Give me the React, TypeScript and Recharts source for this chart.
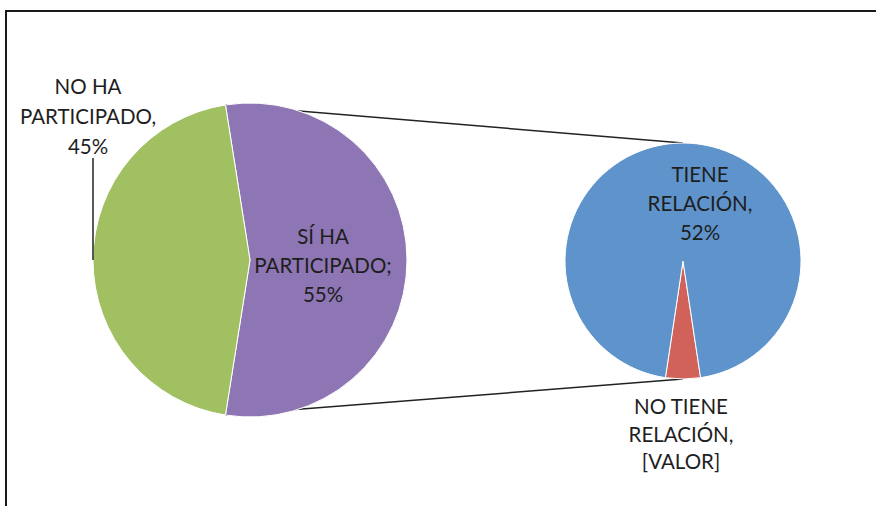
import { PieChart, Pie, Cell } from "recharts";

// primary pie
const mainNames = ["SÍ HA PARTICIPADO", "NO HA PARTICIPADO"];
const mainValues = [55, 45];
const mainLabelLines = [
  ["SÍ HA", "PARTICIPADO;"],
  ["NO HA", "PARTICIPADO,"],
];

// secondary pie (breakdown of "SÍ HA PARTICIPADO")
const subNames = ["NO TIENE RELACIÓN", "TIENE RELACIÓN"];
const subValues = [2.6, 52];
const subLabelLines = [
  ["NO TIENE", "RELACIÓN,"],
  ["TIENE", "RELACIÓN,"],
];
const subValueText = ["[VALOR]", "52%"];

const mainColors = ["#8D76B3", "#A0C062"];
const subColors = ["#D0625A", "#5E93CB"];

const W = 876;
const H = 506;
const MAIN = { cx: 250, cy: 260, r: 157 };
const SUB = { cx: 683, cy: 261, r: 118 };
const FONT = "Lato, 'Open Sans', sans-serif";
const TEXT = "#1e1e1e";
const FS = 20.5;

const sum = (a: number[]) => a.reduce((s, v) => s + v, 0);
const mainSweep = (mainValues[0] / sum(mainValues)) * 360;
const mainStart = -mainSweep / 2;
const subStart = -90 - ((subValues[0] / sum(subValues)) * 360) / 2;

const mainData = mainNames.map((name, i) => ({ name, value: mainValues[i] }));
const subData = subNames.map((name, i) => ({ name, value: subValues[i] }));

const pt = (c: { cx: number; cy: number; r: number }, deg: number) => ({
  x: c.cx + c.r * Math.cos((deg * Math.PI) / 180),
  y: c.cy - c.r * Math.sin((deg * Math.PI) / 180),
});

function Lines({ x, y, lines, gap }: { x: number; y: number; lines: string[]; gap: number }) {
  return (
    <text
      x={x}
      y={y}
      textAnchor="middle"
      dominantBaseline="central"
      fill={TEXT}
      fontFamily={FONT}
      fontSize={FS}
    >
      {lines.map((l, i) => (
        <tspan key={i} x={x} y={y + i * gap} dominantBaseline="central">
          {l}
        </tspan>
      ))}
    </text>
  );
}

const renderMainLabel = (p: any) => {
  const { cx, cy, outerRadius: r, index, value } = p;
  const lines = [...mainLabelLines[index], `${value}%`];
  if (index === 0) {
    return <Lines x={cx + r * 0.465} y={cy - 24} lines={lines} gap={29} />;
  }
  return (
    <g>
      <line x1={cx - r} y1={cy - 102} x2={cx - r} y2={cy} stroke="#222" strokeWidth={1.5} />
      <Lines x={cx - r - 5} y={cy - 174} lines={lines} gap={30} />
    </g>
  );
};

const renderSubLabel = (p: any) => {
  const { cx, cy, index } = p;
  const lines = [...subLabelLines[index], subValueText[index]];
  if (index === 0) {
    return <Lines x={cx - 2} y={cy + 145} lines={lines} gap={27.5} />;
  }
  return <Lines x={cx + 17} y={cy - 87} lines={lines} gap={29} />;
};

export default function App() {
  const topA = pt(MAIN, mainSweep / 2);
  const botA = pt(MAIN, -mainSweep / 2);
  const topB = pt(SUB, 90);
  const botB = pt(SUB, -90);

  return (
    <div
      style={{
        position: "absolute",
        left: 0,
        top: 0,
        width: W,
        height: H,
        overflow: "hidden",
        background: "#fff",
      }}
    >
      <div
        style={{
          position: "absolute",
          left: 5,
          top: 10,
          width: 900,
          height: 520,
          border: "2px solid #1a1a1a",
        }}
      />
      <svg width={W} height={H} style={{ position: "absolute", left: 0, top: 0 }}>
        <line x1={topA.x} y1={topA.y} x2={topB.x} y2={topB.y} stroke="#222" strokeWidth={1.5} />
        <line x1={botA.x} y1={botA.y} x2={botB.x} y2={botB.y} stroke="#222" strokeWidth={1.5} />
      </svg>
      <div style={{ position: "absolute", left: 0, top: 0 }}>
        <PieChart width={W} height={H} margin={{ top: 0, right: 0, bottom: 0, left: 0 }}>
          <Pie
            data={mainData}
            dataKey="value"
            cx={MAIN.cx}
            cy={MAIN.cy}
            outerRadius={MAIN.r}
            startAngle={mainStart}
            endAngle={mainStart + 360}
            stroke="#fff"
            strokeWidth={1}
            label={renderMainLabel}
            labelLine={false}
            isAnimationActive={false}
          >
            {mainData.map((d, i) => (
              <Cell key={d.name} fill={mainColors[i]} />
            ))}
          </Pie>
          <Pie
            data={subData}
            dataKey="value"
            cx={SUB.cx}
            cy={SUB.cy}
            outerRadius={SUB.r}
            startAngle={subStart}
            endAngle={subStart + 360}
            stroke="#fff"
            strokeWidth={1}
            label={renderSubLabel}
            labelLine={false}
            isAnimationActive={false}
          >
            {subData.map((d, i) => (
              <Cell key={d.name} fill={subColors[i]} />
            ))}
          </Pie>
        </PieChart>
      </div>
    </div>
  );
}
